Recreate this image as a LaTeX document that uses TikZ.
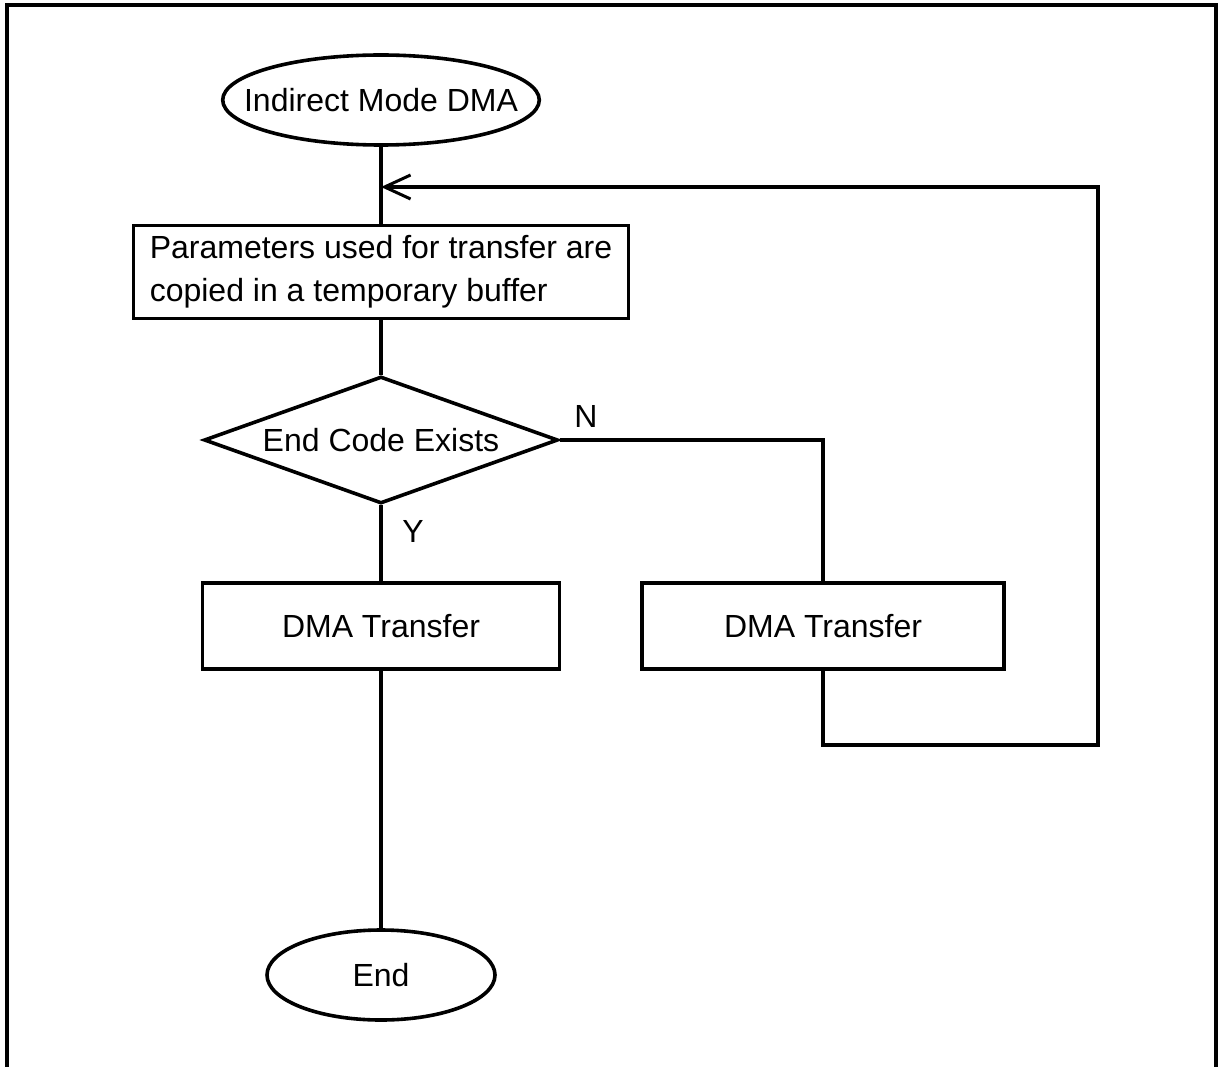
\documentclass[tikz,border=0pt]{standalone}
\usepackage{fontspec}
\setmainfont{Liberation Sans}
\usetikzlibrary{shapes.geometric,arrows.meta}

\begin{document}
\begin{tikzpicture}[x=1pt,y=-1pt,
  line width=3.6pt,
  every node/.style={font=\fontsize{32}{43}\selectfont},
  terminal/.style={draw,ellipse,inner sep=0pt},
  procbox/.style={draw,rectangle,inner sep=0pt},
  decision/.style={draw,diamond,inner sep=0pt,aspect=2.8},
  flow/.style={line width=3.6pt},
  backarrow/.style={-{Straight Barb[length=26pt,width=24pt,line width=3pt]}},
  branchlabel/.style={inner sep=0pt}]

  % page and frame
  \useasboundingbox (0,0) rectangle (1220,1067);
  \fill[white] (0,0) rectangle (1220,1067);
  \draw[line width=4.5pt] (7,1067) -- (7,5) -- (1216,5) -- (1216,1067);

  % nodes
  \node[terminal,inner xsep=-25pt,minimum width=315pt,minimum height=90pt] (start) at (381,100) {Indirect Mode DMA};
  \node[procbox,minimum width=495pt,minimum height=93pt,align=left] (params) at (381,272)
    {Parameters used for transfer are\\copied in a temporary buffer};
  \node[decision,minimum width=354pt,minimum height=127pt] (dec) at (381,440) {End Code Exists};
  \node[procbox,minimum width=357pt,minimum height=86pt] (dmaY) at (381,626) {DMA Transfer};
  \node[procbox,minimum width=362pt,minimum height=86pt] (dmaN) at (823,626) {DMA Transfer};
  \node[terminal,minimum width=228pt,minimum height=90pt] (endnode) at (381,975) {End};

  % branch labels
  \node[branchlabel] (nlab) at (586,416) {N};
  \node[branchlabel] (ylab) at (413,531) {Y};

  % loop corners
  \coordinate (merge) at (start.south |- 0,187);
  \coordinate (nturn) at (dmaN.north |- dec.east);
  \coordinate (lowleft) at (dmaN.south |- 0,745);
  \coordinate (lowright) at (1098,745);
  \coordinate (upright) at (1098,187);

  % connectors
  \draw[flow] (start.south) -- (params.north);
  \draw[flow] (params.south) -- (dec.north);
  \draw[flow] (dec.south) -- (dmaY.north);
  \draw[flow] (dmaY.south) -- (endnode.north);
  \draw[flow] (dec.east) -- (nturn) -- (dmaN.north);
  \draw[flow,backarrow] (dmaN.south) -- (lowleft) -- (lowright) -- (upright) -- (merge);
\end{tikzpicture}
\end{document}
